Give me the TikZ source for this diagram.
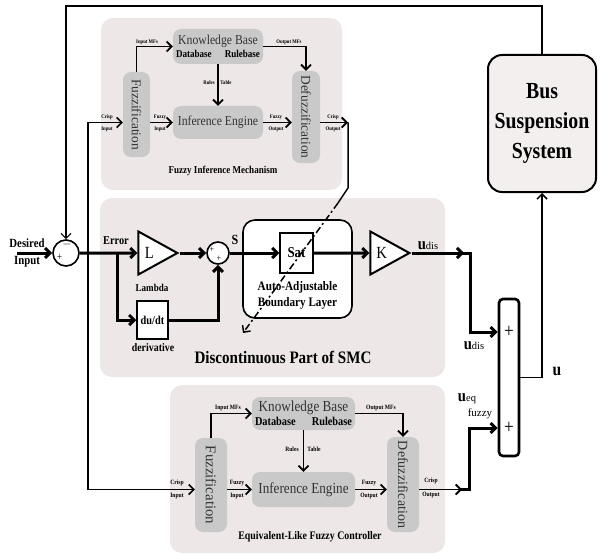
\documentclass[tikz,border=0pt]{standalone}
\usepackage{fontspec}
\setmainfont{Liberation Serif}[FakeStretch=0.86]
\newfontfamily\rotserif{Liberation Serif}
\usepackage{graphicx}
\usetikzlibrary{arrows.meta,shapes.geometric}

\definecolor{panelbg}{RGB}{237,231,231}
\definecolor{fzgray}{RGB}{201,201,201}
\definecolor{busbg}{RGB}{243,239,239}
\newcommand{\fsz}[2]{\fontsize{#1}{#2}\selectfont}

\begin{document}
\begin{tikzpicture}[x=1pt,y=-1pt,>={Straight Barb[length=5pt,width=10pt]},
panel/.style ={rectangle, fill=panelbg, rounded corners=12pt, inner sep=0pt},
fzbox/.style ={rectangle, fill=fzgray, rounded corners=8pt, inner sep=0pt,
  text=black!80, align=center},
blockw/.style ={rectangle, draw, line width=1.5pt, fill=white, inner sep=0pt},
gain/.style ={isosceles triangle, isosceles triangle stretches, draw,
  line width=2pt, fill=white, inner sep=0pt, minimum width=43,
  minimum height=39, font=\fsz{17}{17}},
sum/.style ={circle, draw, line width=1.6pt, fill=white, inner sep=0pt},
lbl/.style ={inner sep=0pt, font=\bfseries\fsz{#1}{#1}},
lbls/.style ={inner sep=0pt, align=center, font=\bfseries\fsz{#1}{#1}},
sig/.style ={line width=3pt},
fzl/.style ={line width=1.8pt},
thn/.style ={line width=1.5pt},
fb/.style ={line width=1.2pt}
]
\useasboundingbox (0,0) rectangle (601,556);

% panels
\node (pnlT) at (221.5,104) [panel, minimum width=241, minimum height=172] {};
\node (pnlM) at (272.5,287.5) [panel, minimum width=345, minimum height=179] {};
\node (pnlB) at (307.5,469) [panel, minimum width=275, minimum height=168] {};

% fuzzy inference mechanism
\node (fuzT) at (136.5,114.5) [fzbox, minimum width=27, minimum height=85,
  font=\rotserif\fsz{13.4}{13.4}] {\rotatebox{-90}{Fuzzification}};
\node (kbT) at (218,46.5) [fzbox, minimum width=90, minimum height=35,
  font=\fsz{13.6}{13}] {Knowledge Base\\{\color{black}\bfseries\fsz{10.5}{10.5}\makebox[84pt]{Database\hfill Rulebase}}};
\node (ieT) at (218,122.5) [fzbox, minimum width=90, minimum height=33,
  font=\fsz{13.6}{13.6}] {Inference Engine};
\node (dfT) at (306,117) [fzbox, minimum width=28, minimum height=92,
  font=\rotserif\fsz{13.4}{13.4}] {\rotatebox{-90}{Defuzzification}};
\node (imfT) at (147,42) [lbl=5.5] {Input MFs};
\node (omfT) at (289,42) [lbl=5.5] {Output MFs};
\node (rulT) at (209,83) [lbl=5.5] {Rules};
\node (tabT) at (226,83) [lbl=5.5] {Table};
\node (fiT) at (160,123) [lbls=5.5] {Fuzzy\\[6.5pt]Input};
\node (foT) at (276,123) [lbls=5.5] {Fuzzy\\[6.5pt]Output};
\node (ciT) at (107,123) [lbls=5.5] {Crisp\\[6.5pt]Input};
\node (coT) at (333,123) [lbls=5.5] {Crisp\\[6.5pt]Output};
\node (fimT) at (223,171) [lbl=10.5] {Fuzzy Inference Mechanism};

% equivalent-like fuzzy controller
\node (fuzB) at (211,485) [fzbox, minimum width=32, minimum height=94,
  font=\rotserif\fsz{14.8}{14.8}] {\rotatebox{-90}{Fuzzification}};
\node (kbB) at (303.5,413.5) [fzbox, minimum width=103, minimum height=33,
  font=\fsz{15.3}{13.5}] {Knowledge Base\\{\color{black}\bfseries\fsz{12}{12}\makebox[97pt]{Database\hfill Rulebase}}};
\node (ieB) at (303.5,489.5) [fzbox, minimum width=103, minimum height=35,
  font=\fsz{15.3}{15.3}] {Inference Engine};
\node (dfB) at (403,484.5) [fzbox, minimum width=32, minimum height=95,
  font=\rotserif\fsz{14}{14}] {\rotatebox{-90}{Defuzzification}};
\node (imfB) at (228,408) [lbl=6.5] {Input MFs};
\node (omfB) at (381,408) [lbl=6.5] {Output MFs};
\node (rulB) at (292,449) [lbl=6.5] {Rules};
\node (tabB) at (314,449) [lbl=6.5] {Table};
\node (fiB) at (237,489.5) [lbls=6.5] {Fuzzy\\[7pt]Input};
\node (foB) at (369,489.5) [lbls=6.5] {Fuzzy\\[7pt]Output};
\node (ciB) at (177,489.5) [lbls=6.5] {Crisp\\[7pt]Input};
\node (coB) at (431,488) [lbls=6.5] {Crisp\\[7pt]Output};
\node (efcB) at (310,537) [lbl=11.5] {Equivalent-Like Fuzzy Controller};

% discontinuous part of SMC
\node (sum1) at (66,253) [sum, minimum size=26] {};
\node (s1m) at (67,244.5) [inner sep=0pt, font=\bfseries\fsz{13}{13}] {$-$};
\node (s1p) at (59.5,257) [inner sep=0pt, font=\fsz{11}{11}] {+};
\node (L) at (180,253) [gain, anchor=apex] {L};
\node (sum2) at (218,253) [sum, minimum size=22] {};
\node (s2a) at (212,250) [inner sep=0pt, font=\fsz{9.5}{9.5}] {+};
\node (s2b) at (219,258.5) [inner sep=0pt, font=\fsz{9.5}{9.5}] {+};
\node (dudt) at (152.5,320) [blockw, minimum width=31, minimum height=38,
  font=\bfseries\fsz{12}{12}] {du/dt};
\node (bl) at (297.5,269) [rectangle, draw, line width=1.6pt, rounded corners=12pt,
  minimum width=109, minimum height=98, fill=white] {};
\node (sat) at (296.5,253) [blockw, minimum width=33, minimum height=40,
  font=\bfseries\fsz{15}{15}] {Sat};
\node (aab) at (297.5,295) [lbls=13] {Auto-Adjustable\\[3pt]Boundary Layer};
\node (K) at (412,253) [gain, anchor=apex] {K};
\node (desired) at (27,253) [lbls=12.5] {Desired\\[4pt]Input};
\node (err) at (116,241) [lbl=12] {Error};
\node (lam) at (152,288) [lbl=10.5] {Lambda};
\node (der) at (153,348) [lbl=11.5] {derivative};
\node (slbl) at (235,240) [lbl=14] {S};
\node (dp) at (283,357) [lbl=17.5] {Discontinuous Part of SMC};
\node (udis1) at (428,246) [lbl=17] {u{\mdseries\rotserif\fsz{10.5}{10.5}dis}};

% adder and plant
\node (adder) at (509,377.5) [rectangle, draw, line width=2.6pt, rounded corners=4pt,
  minimum width=20, minimum height=157, fill=white] {};
\node (p1) at (509,332) [inner sep=0pt, font=\fsz{20}{20}] {+};
\node (p2) at (509,428) [inner sep=0pt, font=\fsz{20}{20}] {+};
\node (udis2) at (474,346) [lbl=17] {u{\mdseries\rotserif\fsz{10.5}{10.5}dis}};
\node (ueq) at (467,399) [lbl=17] {u{\mdseries\rotserif\fsz{10.5}{10.5}eq}};
\node (ufz) at (480,414) [inner sep=0pt, font=\rotserif\fsz{11}{11}] {fuzzy};
\node (ulbl) at (557,371) [lbl=18] {u};
\node (bus) at (542,123.5) [rectangle, draw, line width=2pt, rounded corners=14pt,
  fill=busbg, minimum width=108, minimum height=137, align=center,
  font=\bfseries\fsz{23}{30}] {Bus\\Suspension\\System};

\coordinate (din) at (17,253);
\coordinate (tap) at (88,253);
\coordinate (br) at (117,253);
\coordinate (kout) at (464,253);
\coordinate (kturn) at (470,253);
\coordinate (crT) at (348,122.5);
\coordinate (crTd) at (348,188);
\coordinate (dsh) at (338,203);
\coordinate (dend) at (243,333);
\coordinate (crB) at (462,489.5);
\coordinate (ueqturn) at (469,489.5);

% fuzzy inference mechanism links
\draw[fzl,->] (fuzT.north) |- (kbT.west);
\draw[fzl,->] (kbT.east) -| (dfT.north);
\draw[fzl,->] (kbT.south) -- (ieT.north);
\draw[fzl,->] (fuzT.east |- ieT.west) -- (ieT.west);
\draw[fzl,->] (ieT.east) -- (dfT.west |- ieT.east);
\draw[fzl,->] (dfT.east |- ieT.east) -- (crT);
\draw[thn] (crT) -- (crTd) -- (dsh);
\draw[thn,dash pattern=on 7pt off 3pt on 2pt off 3pt,->] (dsh) -- (dend);

% equivalent-like fuzzy controller links
\draw[fzl,->] (fuzB.north) |- (kbB.west);
\draw[fzl,->] (kbB.east) -| (dfB.north);
\draw[fzl,->] (kbB.south) -- (ieB.north);
\draw[fzl,->] (fuzB.east |- ieB.west) -- (ieB.west);
\draw[fzl,->] (ieB.east) -- (dfB.west |- ieB.east);
\draw[fzl,->] (dfB.east |- ieB.east) -- (crB);

% main loop
\draw[sig,->] (din) -- (sum1.west);
\draw[fb,->] (bus.north) -- ++(0,-48) -| (sum1.north);
\draw[thn,->] (tap) |- (fuzT.west |- ieT.west);
\draw[thn,->] (tap) |- (fuzB.west |- ieB.west);
\draw[sig,->] (sum1.east) -- (L);
\draw[sig,->] (br) |- (dudt.west);
\draw[sig,->] (dudt.east) -| (sum2.south);
\draw[sig,->] (L.apex) -- (sum2.west);
\draw[sig,->] (sum2.east) -- (sat.west);
\draw[sig,->] (sat.east) -- (K);
\draw[sig,->] (K.apex) -- (kout);
\draw[sig,->] ([xshift=-2pt]kout) -- (kturn) |- (adder.west |- p1);
\draw[sig,->] ([xshift=-2pt]crB) -- (ueqturn) |- (adder.west |- p2);
\draw[thn,->] (adder.east) -| (bus.south);
\end{tikzpicture}
\end{document}
